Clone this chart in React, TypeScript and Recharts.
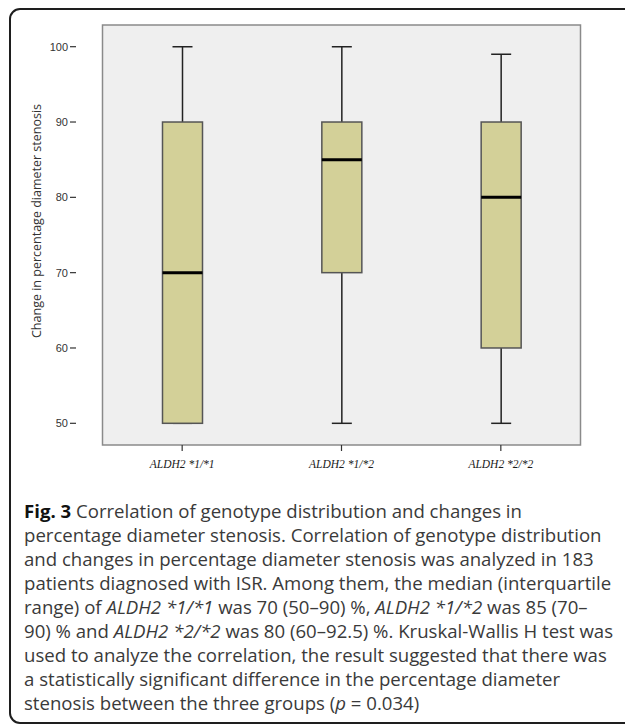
import React from "react";
import { Bar, ComposedChart, ReferenceArea, XAxis, YAxis } from "recharts";

const categories = ["ALDH2 *1/*1", "ALDH2 *1/*2", "ALDH2 *2/*2"];
const minValues = [50, 50, 50];
const q1Values = [50, 70, 60];
const medianValues = [70, 85, 80];
const q3Values = [90, 90, 90];
const maxValues = [100, 100, 99];
const yTicks = [50, 60, 70, 80, 90, 100];
const yDomain = [47.12, 102.88];

const data = categories.map((name, i) => ({
  name,
  min: minValues[i],
  q1: q1Values[i],
  median: medianValues[i],
  q3: q3Values[i],
  max: maxValues[i],
}));

// draws one box from the range bar's own pixel box (max at top, min at bottom)
function BoxShape(props: any) {
  const { x, y, width, height, payload } = props;
  const top = Math.min(y, y + height);
  const bottom = Math.max(y, y + height);
  const span = payload.max - payload.min;
  const toY = (v: number) => bottom - ((v - payload.min) / span) * (bottom - top);
  const cx = x + width / 2;
  const cap = width / 4;
  return (
    <g>
      <line x1={cx} x2={cx} y1={toY(payload.max)} y2={toY(payload.q3)} stroke="#222" strokeWidth={1.5} />
      <line x1={cx} x2={cx} y1={toY(payload.q1)} y2={toY(payload.min)} stroke="#222" strokeWidth={1.5} />
      <line x1={cx - cap} x2={cx + cap} y1={toY(payload.max)} y2={toY(payload.max)} stroke="#222" strokeWidth={1.5} />
      <line x1={cx - cap} x2={cx + cap} y1={toY(payload.min)} y2={toY(payload.min)} stroke="#222" strokeWidth={1.5} />
      <rect
        x={x}
        y={toY(payload.q3)}
        width={width}
        height={toY(payload.q1) - toY(payload.q3)}
        fill="#d3d098"
        stroke="#555"
        strokeWidth={1.5}
      />
      <line x1={x} x2={x + width} y1={toY(payload.median)} y2={toY(payload.median)} stroke="#000" strokeWidth={3} />
    </g>
  );
}

const capText: React.CSSProperties = { whiteSpace: "nowrap" };

export default function App() {
  return (
    <div style={{ position: "absolute", left: 0, top: 0, width: 625, height: 726, overflow: "hidden", background: "#fff" }}>
      <div
        style={{
          position: "absolute",
          left: 9,
          top: 8,
          width: 650,
          height: 716,
          boxSizing: "border-box",
          border: "2px solid #1e1e1e",
          borderRadius: 11,
        }}
      />
      <div style={{ position: "absolute", left: 0, top: 0 }}>
        <ComposedChart width={625} height={480} data={data} margin={{ top: 25, right: 18, bottom: 0, left: 0 }}>
          <ReferenceArea
            y1={yDomain[0]}
            y2={yDomain[1]}
            fill="#efefef"
            fillOpacity={1}
            stroke="#8a8a8a"
            strokeWidth={1.5}
            ifOverflow="visible"
          />
          <XAxis
            dataKey="name"
            axisLine={false}
            tickSize={6}
            tickMargin={9}
            height={35}
            padding={{ left: 26.5, right: 26.5 }}
            tickLine={{ stroke: "#333", strokeWidth: 1.2 }}
            tick={{ fill: "#1a1a1a", fontSize: 11.5, fontStyle: "italic", fontFamily: "Liberation Serif" }}
          />
          <YAxis
            type="number"
            domain={yDomain}
            ticks={yTicks}
            allowDataOverflow
            width={76}
            axisLine={false}
            tickSize={6}
            tickMargin={2}
            tickLine={{ stroke: "#333", strokeWidth: 1.2 }}
            tick={{ fill: "#333", fontSize: 11, fontFamily: "Liberation Sans" }}
            label={{
              content: () => (
                <text
                  x={38}
                  y={221}
                  transform="rotate(-90 38 221)"
                  textAnchor="middle"
                  dominantBaseline="middle"
                  fill="#333"
                  fontSize={12.5}
                  fontFamily="Open Sans"
                >
                  Change in percentage diameter stenosis
                </text>
              ),
            }}
          />
          <Bar dataKey={(d: any) => [d.min, d.max]} barSize={40} shape={BoxShape} isAnimationActive={false} />
        </ComposedChart>
      </div>
      <div
        style={{
          position: "absolute",
          left: 24,
          top: 499,
          fontFamily: "Open Sans",
          fontSize: 18.6,
          lineHeight: "24px",
          color: "#3a3a3a",
        }}
      >
        <div style={capText}>
          <b style={{ color: "#111" }}>Fig. 3</b> Correlation of genotype distribution and changes in
        </div>
        <div style={capText}>percentage diameter stenosis. Correlation of genotype distribution</div>
        <div style={capText}>and changes in percentage diameter stenosis was analyzed in 183</div>
        <div style={capText}>patients diagnosed with ISR. Among them, the median (interquartile</div>
        <div style={capText}>
          range) of <i>ALDH2 *1/*1</i> was 70 (50–90) %, <i>ALDH2 *1/*2</i> was 85 (70–
        </div>
        <div style={capText}>
          90) % and <i>ALDH2 *2/*2</i> was 80 (60–92.5) %. Kruskal-Wallis H test was
        </div>
        <div style={capText}>used to analyze the correlation, the result suggested that there was</div>
        <div style={capText}>a statistically significant difference in the percentage diameter</div>
        <div style={capText}>
          stenosis between the three groups (<i>p</i> = 0.034)
        </div>
      </div>
    </div>
  );
}
